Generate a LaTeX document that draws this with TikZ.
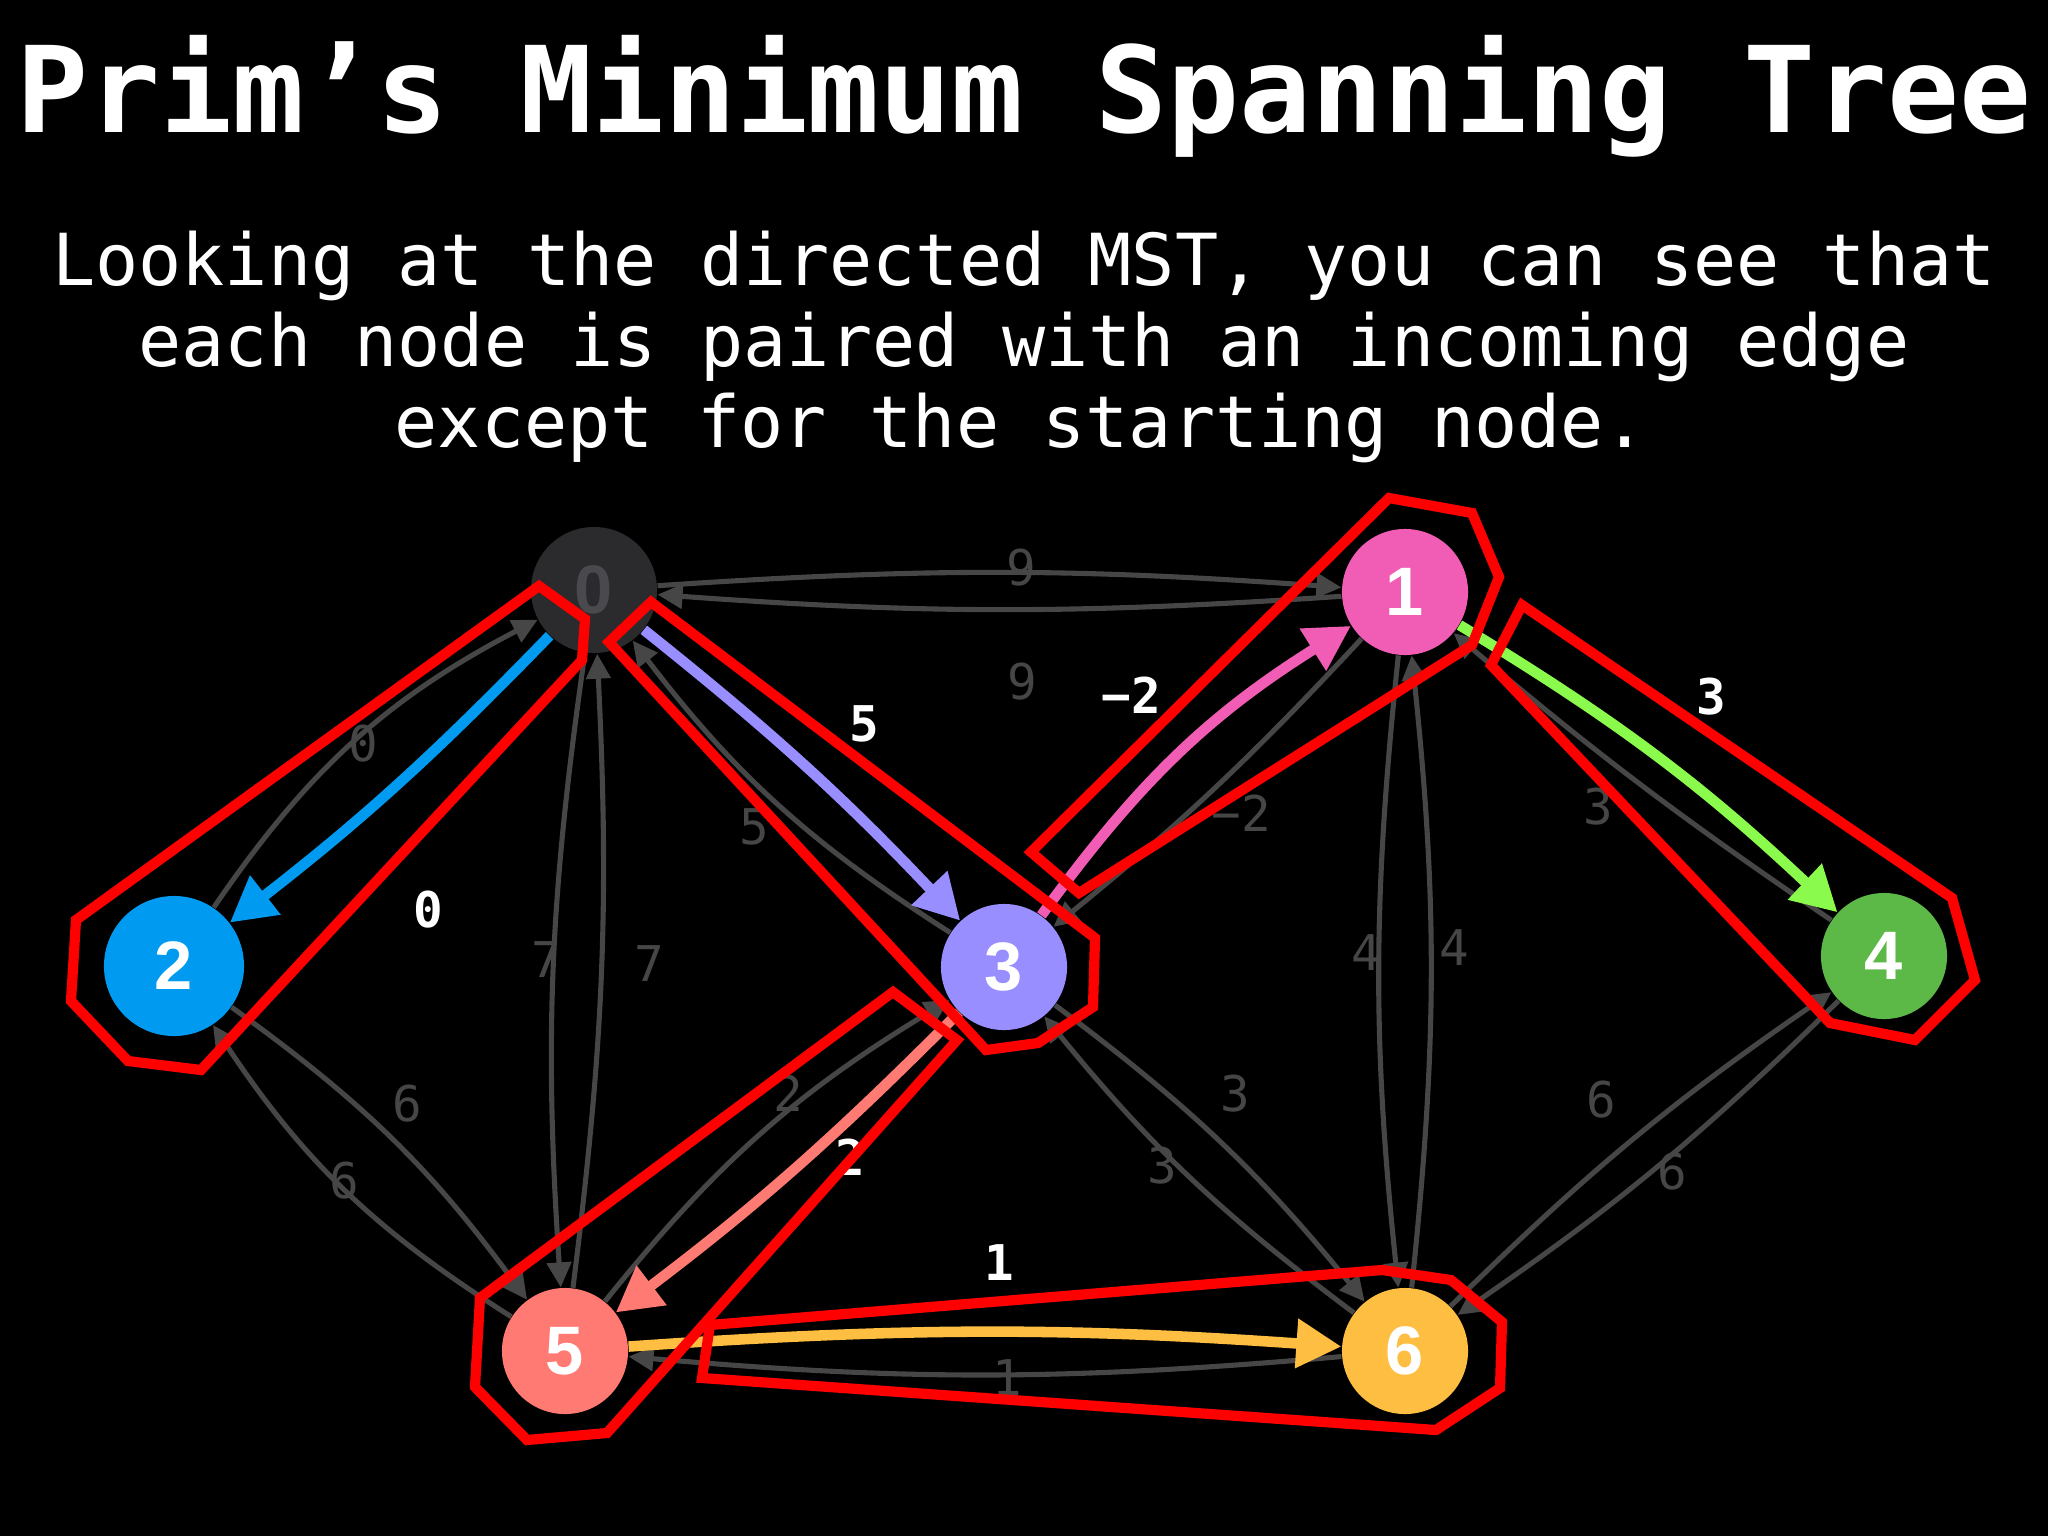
\documentclass[tikz,border=0pt]{standalone}
\usepackage{fontspec}
\setmainfont{Liberation Sans}
\setmonofont{DejaVu Sans Mono}
\usetikzlibrary{arrows.meta}
\definecolor{edgegray}{RGB}{70,70,70}
\definecolor{labgray}{RGB}{70,70,70}
\definecolor{cZero}{RGB}{43,43,45}
\definecolor{cZeroTxt}{RGB}{74,74,78}
\definecolor{cOne}{RGB}{241,92,181}
\definecolor{cTwo}{RGB}{0,155,240}
\definecolor{cThree}{RGB}{152,142,255}
\definecolor{cFour}{RGB}{92,184,71}
\definecolor{cFourEdge}{RGB}{138,250,76}
\definecolor{cFive}{RGB}{255,122,114}
\definecolor{cSix}{RGB}{253,190,66}
\definecolor{hullred}{RGB}{255,0,0}

\tikzset{
  vert/.style={circle, minimum size=1.26cm, inner sep=0pt, text=white,
    font=\fontsize{19.5}{19.5}\selectfont\bfseries},
  gedge/.style={draw=edgegray, line width=1.45pt, -{Triangle[length=0.25cm,width=0.24cm]}},
  tedge/.style={line width=3pt, -{Triangle[length=0.45cm,width=0.47cm]}},
  wlab/.style={text=labgray, inner sep=0pt, font=\ttfamily\fontsize{14}{14}\selectfont},
  tlab/.style={text=white, inner sep=0pt, font=\ttfamily\bfseries\fontsize{14}{14}\selectfont},
  hull/.style={draw=hullred, line width=2.9pt, line join=miter},
}

\begin{document}
\begin{tikzpicture}[x=0.01cm, y=-0.01cm]
  \useasboundingbox (0,0) rectangle (2048,1536);
  \fill[black] (0,0) rectangle (2048,1536);
  % heading
  \node[text=white, anchor=base, font=\ttfamily\bfseries\fontsize{34}{40}\selectfont] (title) at (1024,132) {Prim’s Minimum Spanning Tree};
  \node[text=white, anchor=base, font=\ttfamily\fontsize{20.4}{23}\selectfont] (sub1) at (1024,285) {Looking at the directed MST, you can see that};
  \node[text=white, anchor=base, font=\ttfamily\fontsize{20.4}{23}\selectfont] (sub2) at (1024,366) {each node is paired with an incoming edge};
  \node[text=white, anchor=base, font=\ttfamily\fontsize{20.4}{23}\selectfont] (sub3) at (1021,447) {except for the starting node.};
  % vertices
  \node[vert, fill=cZero, text=cZeroTxt] (v0) at (594,590) {0};
  \node[vert, fill=cOne] (v1) at (1405,592) {1};
  \node[vert, fill=cTwo, minimum size=1.4cm] (v2) at (174,966) {2};
  \node[vert, fill=cThree] (v3) at (1004,967) {3};
  \node[vert, fill=cFour] (v4) at (1884,956) {4};
  \node[vert, fill=cFive] (v5) at (565,1351) {5};
  \node[vert, fill=cSix] (v6) at (1405,1351) {6};
  % all directed edges (grey)
  \foreach \a/\b/\d in {0/1/4, 1/0/4, 2/0/14, 3/0/10, 0/5/-6, 5/0/-5, 1/3/4, 4/1/3,
                        1/6/-6, 6/1/-6, 2/5/9, 5/2/12, 5/3/10, 3/6/7, 6/3/7, 6/4/5, 4/6/5, 6/5/5}
    \draw[gedge] (v\a) to[bend left=\d] (v\b);
  \node[wlab] (w01) at (1021,568) {9};
  \node[wlab] (w10) at (1022,682) {9};
  \node[wlab] (w20) at (363,744) {0};
  \node[wlab] (w30) at (754,827) {5};
  \node[wlab] (w05) at (546,960) {7};
  \node[wlab] (w50) at (649,964) {7};
  \node[wlab] (w13) at (1241,813) {−2};
  \node[wlab] (w41) at (1598,807) {3};
  \node[wlab] (w16) at (1366,953) {4};
  \node[wlab] (w61) at (1454,948) {4};
  \node[wlab] (w25) at (407,1104) {6};
  \node[wlab] (w52) at (344,1181) {6};
  \node[wlab] (w53) at (788,1093) {2};
  \node[wlab] (w36) at (1235,1094) {3};
  \node[wlab] (w63) at (1162,1166) {3};
  \node[wlab] (w64) at (1601,1100) {6};
  \node[wlab] (w46) at (1672,1172) {6};
  \node[wlab] (w65) at (1007,1378) {1};
  % tree edges
  \draw[tedge, cTwo] (v0) to[bend left=4] (v2);
  \draw[tedge, cThree] (v0) to[bend left=4] (v3);
  \draw[tedge, cOne] (v3) to[bend left=11] (v1);
  \draw[tedge, cFourEdge] (v1) to[bend left=6] (v4);
  \draw[tedge, cFive] (v3) to[bend left=4] (v5);
  \draw[tedge, cSix] (v5) to[bend left=4] (v6);
  \node[tlab] (t02) at (428,910) {0};
  \node[tlab] (t03) at (864,724) {5};
  \node[tlab] (t31) at (1131,695) {−2};
  \node[tlab] (t14) at (1711,697) {3};
  \node[tlab] (t35) at (850,1157) {2};
  \node[tlab] (t56) at (999,1263) {1};
  % red hulls round each tree edge
  \draw[hull] (539,586) -- (585,619) -- (582,660) -- (201,1070) -- (128,1061) -- (71,1001) -- (76,920) -- cycle;
  \draw[hull] (651,602) -- (1095,938) -- (1093,1007) -- (1038,1043) -- (986,1050) -- (609,642) -- cycle;
  \draw[hull] (1031,852) -- (1389,498) -- (1472,513) -- (1499,577) -- (1472,645) -- (1079,893) -- cycle;
  \draw[hull] (1522,605) -- (1952,898) -- (1975,980) -- (1915,1040) -- (1830,1023) -- (1491,665) -- cycle;
  \draw[hull] (893,992) -- (957,1040) -- (607,1433) -- (527,1440) -- (475,1387) -- (480,1298) -- cycle;
  \draw[hull] (710,1325) -- (1382,1270) -- (1451,1280) -- (1502,1322) -- (1500,1388) -- (1436,1430) -- (702,1378) -- cycle;
\end{tikzpicture}
\end{document}
